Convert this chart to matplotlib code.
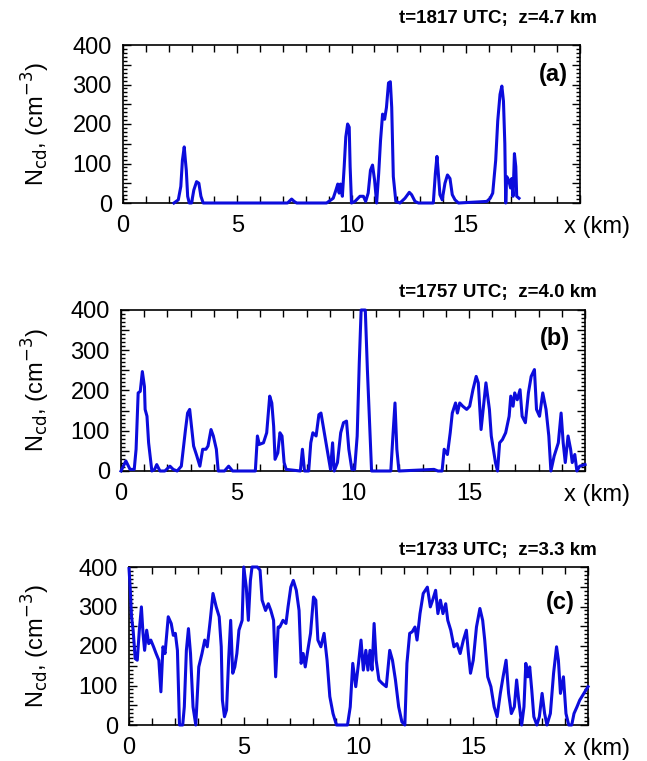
import matplotlib
matplotlib.use('Agg')
from matplotlib import pyplot as plt
from matplotlib.ticker import MultipleLocator, FixedLocator, FuncFormatter

plt.rcParams['font.family'] = ['Liberation Sans', 'DejaVu Sans']

# panel (a): t=1817 UTC, z=4.7 km
xa = [2.23, 2.42, 2.53, 2.60, 2.68, 2.73, 2.77, 2.83, 2.90, 3.00, 3.10, 3.22, 3.32, 3.41, 3.51,
      3.65, 7.20, 7.38, 7.49, 7.60, 8.91, 9.20, 9.32, 9.40, 9.46, 9.52, 9.60, 9.68, 9.75, 9.83,
      9.90, 9.94, 10.00, 10.15, 10.37, 10.52, 10.62, 10.73, 10.83, 10.92, 11.01, 11.10, 11.19,
      11.27, 11.36, 11.45, 11.53, 11.62, 11.70, 11.76, 11.83, 11.94, 12.12, 12.34, 12.53, 12.63,
      12.78, 12.93, 13.58, 13.67, 13.74, 13.80, 13.87, 13.97, 14.09, 14.20, 14.31, 14.41, 14.53,
      14.68, 15.92, 16.07, 16.18, 16.31, 16.40, 16.50, 16.58, 16.65, 16.71, 16.75, 16.79, 16.88,
      16.96, 17.01, 17.07, 17.13, 17.19, 17.23, 17.33]
na = [0, 8, 42, 108, 142, 108, 83, 17, 0, 0, 33, 54, 50, 17, 0,
      0, 0, 10, 4, 0, 0, 12, 33, 48, 25, 48, 17, 92, 167, 200,
      192, 92, 0, 4, 17, 17, 4, 25, 83, 96, 58, 0, 75,
      158, 225, 212, 242, 304, 307, 242, 67, 4, 0, 12, 27, 21,
      4, 0, 0, 75, 118, 75, 21, 8, 50, 71, 62, 21, 8,
      0, 4, 12, 25, 108, 208, 275, 296, 258, 150, 0, 67, 58,
      38, 62, 17, 125, 92, 17, 12]

# panel (b): t=1757 UTC, z=4.0 km
xb = [0, 0.21, 0.39, 0.57, 0.65, 0.74, 0.83, 0.92, 1.01, 1.04, 1.12, 1.19, 1.33, 1.45, 1.54,
      1.68, 1.89, 2.11, 2.25, 2.42, 2.60, 2.78, 2.87, 2.96, 3.04, 3.13, 3.27, 3.40, 3.52, 3.66,
      3.75, 3.88, 3.98, 4.11, 4.19, 4.46, 4.64, 4.81, 5.79, 5.88, 5.96, 6.14, 6.28, 6.41, 6.50,
      6.58, 6.64, 6.76, 6.85, 6.94, 7.03, 7.12, 7.73, 7.82, 7.91, 8.09, 8.18, 8.27, 8.41, 8.53,
      8.62, 8.74, 8.88, 9.03, 9.12, 9.19, 9.33, 9.47, 9.59, 9.72, 9.82, 9.95, 10.07, 10.18,
      10.27, 10.35, 10.53, 10.62, 10.71, 10.80, 11.63, 11.72, 11.81, 11.89, 11.98, 13.49, 13.66,
      13.84, 13.93, 14.07, 14.19, 14.28, 14.42, 14.50, 14.60, 14.73, 14.90, 15.03, 15.17, 15.31,
      15.40, 15.52, 15.61, 15.73, 15.88, 15.96, 16.14, 16.23, 16.32, 16.44, 16.58, 16.73, 16.80,
      16.90, 16.97, 17.08, 17.20, 17.29, 17.43, 17.56, 17.68, 17.82, 17.91, 18.04, 18.18, 18.32,
      18.44, 18.53, 18.67, 18.85, 18.97, 19.06, 19.15, 19.27, 19.38, 19.45, 19.56, 19.65, 19.77,
      20.0]
nb = [0, 25, 4, 4, 54, 194, 198, 247, 210, 153, 136, 70, 0, 4, 16,
      0, 0, 12, 4, 0, 12, 103, 144, 153, 111, 62, 37, 12, 54, 54,
      62, 103, 87, 54, 0, 0, 12, 0, 0, 87, 66, 70, 95, 186, 169,
      111, 29, 45, 95, 87, 21, 4, 0, 54, 0, 0, 70, 95, 87, 140,
      144, 103, 54, 4, 70, 0, 21, 95, 120, 124, 54, 4, 4, 87,
      268, 400, 400, 252, 128, 0, 0, 87, 169, 54, 0, 4, 0,
      0, 54, 41, 95, 144, 169, 144, 169, 161, 153, 161, 202, 235,
      219, 103, 153, 219, 153, 87, 21, 0, 70, 78, 95, 136, 186,
      161, 194, 177, 202, 136, 120, 194, 235, 252, 153, 136, 194, 153,
      87, 0, 37, 70, 144, 70, 21, 87, 54, 21, 41, 0, 12,
      16]

# panel (c): t=1733 UTC, z=3.3 km
xc = [0, 0.05, 0.11, 0.18, 0.27, 0.36, 0.45, 0.54, 0.61, 0.68, 0.77, 0.86, 0.95, 1.07, 1.18,
      1.30, 1.39, 1.48, 1.57, 1.71, 1.84, 1.93, 2.02, 2.11, 2.20, 2.34, 2.41, 2.50, 2.59, 2.68,
      2.79, 2.91, 3.04, 3.18, 3.30, 3.41, 3.54, 3.66, 3.80, 3.93, 4.02, 4.07, 4.16, 4.25, 4.34,
      4.43, 4.52, 4.61, 4.70, 4.79, 4.93, 5.00, 5.11, 5.20, 5.29, 5.36, 5.59, 5.71, 5.80, 5.95,
      6.07, 6.18, 6.30, 6.39, 6.50, 6.57, 6.71, 6.84, 6.93, 7.05, 7.16, 7.29, 7.41, 7.50, 7.59,
      7.68, 7.79, 7.91, 8.04, 8.14, 8.23, 8.36, 8.50, 8.63, 8.75, 8.89, 9.04, 9.52, 9.64, 9.75,
      9.88, 10.00, 10.11, 10.21, 10.32, 10.41, 10.50, 10.59, 10.68, 10.77, 10.89, 11.04, 11.21,
      11.36, 11.48, 11.61, 11.75, 11.89, 12.02, 12.11, 12.23, 12.34, 12.46, 12.55, 12.68, 12.82,
      13.00, 13.13, 13.23, 13.36, 13.46, 13.57, 13.68, 13.80, 13.89, 14.02, 14.16, 14.29, 14.43,
      14.57, 14.70, 14.79, 14.88, 15.00, 15.14, 15.29, 15.41, 15.50, 15.63, 15.77, 15.91, 16.04,
      16.18, 16.30, 16.43, 16.54, 16.66, 16.79, 16.89, 16.98, 17.11, 17.21, 17.29, 17.38, 17.46,
      17.55, 17.64, 17.77, 17.88, 18.00, 18.11, 18.21, 18.36, 18.50, 18.63, 18.71, 18.80, 18.93,
      19.04, 19.16, 19.29, 19.39, 19.52, 19.64, 20.0]
nc = [396, 349, 274, 240, 168, 164, 240, 299, 232, 189, 240, 206, 215, 198, 181,
      164, 84, 198, 181, 274, 257, 227, 232, 189, 0, 0, 46, 189, 244, 181,
      46, 0, 147, 181, 215, 198, 265, 333, 299, 274, 198, 63, 21, 38, 164,
      265, 131, 147, 181, 240, 265, 400, 349, 265, 366, 400, 400, 392, 316, 290,
      307, 290, 265, 122, 248, 248, 265, 257, 299, 349, 366, 341, 290, 156, 181,
      147, 189, 232, 324, 316, 215, 198, 232, 164, 72, 29, 0, 0, 46, 156,
      97, 156, 215, 139, 189, 139, 189, 139, 257, 164, 114, 105, 97,
      189, 164, 114, 46, 8, 0, 156, 232, 236, 248, 215, 282, 333,
      349, 299, 316, 341, 282, 316, 282, 307, 265, 240, 198, 206, 181,
      215, 240, 181, 131, 164, 248, 295, 265, 215, 122, 97, 46, 21,
      80, 122, 164, 80, 29, 46, 114, 63, 0, 46, 156, 122, 147,
      88, 21, 0, 21, 80, 29, 0, 29, 131, 198, 164, 80, 122,
      29, 0, 0, 29, 46, 63, 97]

titles = ['t=1817 UTC;  z=4.7 km', 't=1757 UTC;  z=4.0 km', 't=1733 UTC;  z=3.3 km']
tags = ['(a)', '(b)', '(c)']
xticks = [0, 5, 10, 15]

W, H = 647, 761
fig = plt.figure(figsize=(W / 100, H / 100), dpi=100)

# axes boxes in pixels: left, top, right, bottom
boxes = [(123, 45, 580, 203), (121, 310, 585, 471), (129, 567, 588, 725)]
title_y = [18, 292, 550]
tag_xy = [(553, 75), (555, 338), (560, 602)]
series = [(xa, na), (xb, nb), (xc, nc)]

ylab = FuncFormatter(lambda v, p: '%d' % v if round(v) % 100 == 0 else '')
xlab = FuncFormatter(lambda v, p: '%d' % v if round(v) in xticks else '')

for i, (x, n) in enumerate(series):
    l, t, r, b = boxes[i]
    ax = fig.add_axes([l / W, 1 - b / H, (r - l) / W, (b - t) / H])
    ax.plot(x, n, color='#0c0cdc', lw=2.2, clip_on=False, zorder=3)
    ax.set_xlim(0, 20)
    ax.set_ylim(0, 400)
    ax.xaxis.set_major_locator(FixedLocator([0, 5, 10, 15, 20]))
    ax.xaxis.set_major_formatter(xlab)
    ax.xaxis.set_minor_locator(MultipleLocator(1))
    ax.yaxis.set_major_locator(MultipleLocator(50))
    ax.yaxis.set_major_formatter(ylab)
    ax.yaxis.set_minor_locator(MultipleLocator(10))
    ax.tick_params(which='both', direction='in', top=True, right=True, width=1.0)
    ax.tick_params(which='major', length=6, labelsize=17, pad=8)
    ax.tick_params(axis='x', which='major', pad=9)
    ax.tick_params(which='minor', length=3)
    ax.tick_params(axis='x', which='minor', length=5)
    for s in ax.spines.values():
        s.set_linewidth(1.2)

    fig.text(597 / W, 1 - title_y[i] / H, titles[i], ha='right', va='center',
             fontsize=13.5, fontweight='bold')
    fig.text(tag_xy[i][0] / W, 1 - tag_xy[i][1] / H, tags[i], ha='center', va='center',
             fontsize=17, fontweight='bold')
    fig.text(597 / W, 1 - (b + 24) / H, 'x (km)', ha='center', va='center', fontsize=17)
    fig.text(36 / W, 1 - ((t + b) / 2) / H, r'N$_{\rm cd}$, (cm$^{-3}$)', rotation=90,
             ha='center', va='center', fontsize=17)

fig.savefig('out.png', dpi=100)
